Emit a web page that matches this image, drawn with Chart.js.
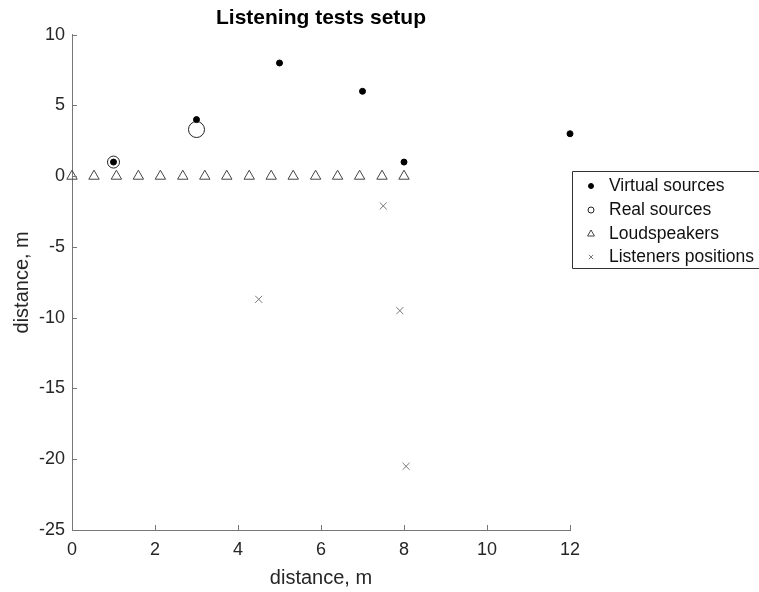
<!DOCTYPE html>
<html>
<head>
<meta charset="utf-8">
<title>Listening tests setup</title>
<script src="https://cdn.jsdelivr.net/npm/chart.js@4.4.1/dist/chart.umd.min.js"></script>
<style>
    body { margin: 0; background: #fff; }
    #wrap { width: 759px; height: 592px; position: relative; }
</style>
</head>
<body>
<div id="wrap"><canvas id="chart"></canvas></div>
<script>
// values
const virtualX = [1, 3, 5, 7, 8, 12];
const virtualY = [1, 4, 8, 6, 1, 3];
const realX = [1, 3];
const realY = [1, 3.3];
const speakerX = [0, 0.53, 1.07, 1.6, 2.13, 2.67, 3.2, 3.73, 4.27, 4.8, 5.33, 5.87, 6.4, 6.93, 7.47, 8];
const speakerY = [0, 0, 0, 0, 0, 0, 0, 0, 0, 0, 0, 0, 0, 0, 0, 0];
const listenerX = [7.5, 4.5, 7.9, 8.05];
const listenerY = [-2.1, -8.7, -9.5, -20.5];
const seriesNames = ['Virtual sources', 'Real sources', 'Loudspeakers', 'Listeners positions'];
const xTicks = [0, 2, 4, 6, 8, 10, 12];
const yTicks = [10, 5, 0, -5, -10, -15, -20, -25];

function pts(xs, ys) {
    return xs.map((x, i) => ({ x: x, y: ys[i] }));
}

// MATLAB style ticks pointing inward
const innerTicks = {
    id: 'innerTicks',
    afterDraw(chart) {
        const ctx = chart.ctx;
        const area = chart.chartArea;
        const xs = chart.scales.x, ys = chart.scales.y;
        ctx.save();
        ctx.strokeStyle = '#777';
        ctx.lineWidth = 1;
        ctx.beginPath();
        xs.ticks.forEach(t => {
            const px = Math.round(xs.getPixelForValue(t.value)) + 0.5;
            ctx.moveTo(px, area.bottom);
            ctx.lineTo(px, area.bottom - 5);
        });
        ys.ticks.forEach(t => {
            const py = Math.round(ys.getPixelForValue(t.value)) + 0.5;
            ctx.moveTo(area.left, py);
            ctx.lineTo(area.left + 5, py);
        });
        ctx.stroke();
        ctx.restore();
    }
};

// boxed legend sitting right of the axes
const boxLegend = {
    id: 'boxLegend',
    afterDraw(chart) {
        const ctx = chart.ctx;
        const left = 572.5, top = 171.5, bottom = 268.5;
        ctx.save();
        ctx.fillStyle = '#fff';
        ctx.fillRect(left, top, 200, bottom - top);
        ctx.strokeStyle = '#333';
        ctx.lineWidth = 1;
        ctx.beginPath();
        ctx.moveTo(765, top);
        ctx.lineTo(left, top);
        ctx.lineTo(left, bottom);
        ctx.lineTo(765, bottom);
        ctx.stroke();
        const rowY = [186, 210, 234, 257];
        const sizes = [2.5, 3, 4, 3];
        chart.data.datasets.forEach((ds, i) => {
            ctx.fillStyle = ds.backgroundColor;
            ctx.strokeStyle = ds.borderColor;
            ctx.lineWidth = 1;
            Chart.helpers.drawPoint(ctx, {
                pointStyle: ds.pointStyle,
                radius: sizes[i],
                rotation: 0,
                borderWidth: 1
            }, 591, rowY[i]);
            ctx.fillStyle = '#111';
            ctx.font = '17.5px "Liberation Sans", Arial, sans-serif';
            ctx.textBaseline = 'middle';
            ctx.textAlign = 'left';
            ctx.fillText(ds.label, 609, rowY[i]);
        });
        ctx.restore();
    }
};

const ctx = document.getElementById('chart');
new Chart(ctx, {
    type: 'scatter',
    data: {
        datasets: [{
            label: seriesNames[0],
            data: pts(virtualX, virtualY),
            pointStyle: 'circle',
            pointRadius: 3,
            backgroundColor: '#000',
            borderColor: '#000',
            borderWidth: 1,
            clip: false
        }, {
            label: seriesNames[1],
            data: pts(realX, realY),
            pointStyle: 'circle',
            pointRadius: [6, 8],
            backgroundColor: 'rgba(0,0,0,0)',
            borderColor: '#222',
            borderWidth: 1,
            clip: false
        }, {
            label: seriesNames[2],
            data: pts(speakerX, speakerY),
            pointStyle: 'triangle',
            pointRadius: 6,
            backgroundColor: 'rgba(0,0,0,0)',
            borderColor: '#444',
            borderWidth: 1,
            clip: false
        }, {
            label: seriesNames[3],
            data: pts(listenerX, listenerY),
            pointStyle: 'crossRot',
            pointRadius: 5,
            backgroundColor: '#777',
            borderColor: '#777',
            borderWidth: 1,
            clip: false
        }]
    },
    options: {
        responsive: true,
        maintainAspectRatio: false,
        animation: false,
        layout: { padding: { left: 0, right: 189, top: 0, bottom: 0 } },
        plugins: {
            legend: { display: false },
            tooltip: { enabled: false },
            title: {
                display: true,
                text: 'Listening tests setup',
                fullSize: false,
                color: '#000',
                font: { family: '"Liberation Sans", Arial, sans-serif', size: 21, weight: 'bold' },
                padding: { top: 6, bottom: 3.5 }
            }
        },
        scales: {
            x: {
                type: 'linear',
                min: 0,
                max: 12,
                afterBuildTicks: s => { s.ticks = xTicks.map(v => ({ value: v })); },
                afterFit: s => { s.height = 62; },
                grid: { display: false, drawTicks: false },
                border: { display: true, color: '#777', width: 1 },
                ticks: {
                    color: '#262626',
                    padding: 9,
                    font: { family: '"Liberation Sans", Arial, sans-serif', size: 18 }
                },
                title: {
                    display: true,
                    text: 'distance, m',
                    color: '#262626',
                    padding: { top: 0, bottom: 2 },
                    font: { family: '"Liberation Sans", Arial, sans-serif', size: 20 }
                }
            },
            y: {
                type: 'linear',
                min: -25,
                max: 10,
                afterBuildTicks: s => { s.ticks = yTicks.map(v => ({ value: v })); },
                afterFit: s => { s.width = 72; },
                grid: { display: false, drawTicks: false },
                border: { display: true, color: '#777', width: 1 },
                ticks: {
                    color: '#262626',
                    padding: 7,
                    font: { family: '"Liberation Sans", Arial, sans-serif', size: 18 }
                },
                title: {
                    display: true,
                    text: 'distance, m',
                    color: '#262626',
                    padding: { top: 10, bottom: 0 },
                    font: { family: '"Liberation Sans", Arial, sans-serif', size: 20 }
                }
            }
        }
    },
    plugins: [innerTicks, boxLegend]
});
</script>
</body>
</html>
